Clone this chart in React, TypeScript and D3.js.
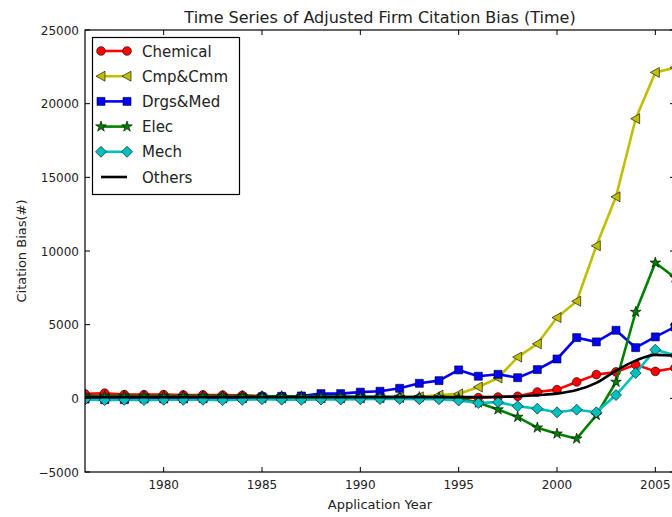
import React, { useEffect, useRef } from "react";
import * as d3 from "d3";

const years = d3.range(1976, 2007);
const seriesNames = ["Chemical", "Cmp&Cmm", "Drgs&Med", "Elec", "Mech", "Others"];
const chemical = [300, 350, 250, 250, 250, 230, 230, 220, 200, 150, 120, 100, 80, 60, 50, 40, 30, 20, 20, 10, 50, 90, 140, 430, 590, 1110, 1610, 1790, 2290, 1830, 2060];
const cmpCmm = [20, 20, 20, 20, 20, 20, 20, 20, 20, 20, 20, 20, 20, 20, 20, 30, 50, 100, 220, 300, 770, 1380, 2800, 3700, 5480, 6590, 10350, 13680, 18980, 22120, 22450];
const drgsMed = [-50, -90, -90, -30, -30, -20, 0, 10, 30, 100, 135, 160, 320, 320, 420, 480, 680, 1020, 1200, 1930, 1500, 1630, 1400, 1950, 2670, 4120, 3830, 4620, 3440, 4170, 4850];
const elec = [150, 150, 150, 150, 150, 150, 150, 150, 150, 140, 140, 130, 130, 120, 110, 100, 90, 80, 60, 30, -300, -760, -1270, -1990, -2400, -2740, -1150, 1110, 5860, 9200, 8200];
const mech = [-80, -120, -100, -120, -100, -100, -100, -120, -100, -60, -90, -100, -80, -80, -60, -50, -40, -60, -60, -150, -320, -260, -540, -700, -950, -770, -950, 220, 1720, 3300, 2920];
const others = [80, 80, 80, 80, 80, 80, 80, 80, 80, 80, 80, 80, 80, 80, 80, 80, 80, 80, 80, 80, 80, 100, 130, 220, 320, 560, 1050, 1880, 2560, 2950, 2900];
const xTicks = [1980, 1985, 1990, 1995, 2000, 2005];
const yTicks = [-5000, 0, 5000, 10000, 15000, 20000, 25000];

const seriesValues = [chemical, cmpCmm, drgsMed, elec, mech, others];
const colors = ["#ff0000", "#bfbf00", "#0000ff", "#008000", "#00bfbf", "#000000"];
const markers = ["circle", "triLeft", "square", "star", "diamond", "none"];

function markerPath(kind: string): string {
  switch (kind) {
    case "circle":
      return d3.symbol(d3.symbolCircle, 60)()!;
    case "square":
      return "M-4,-4L4,-4L4,4L-4,4Z";
    case "triLeft":
      return "M-5,0L4,-5L4,5Z";
    case "star":
      return d3.symbol(d3.symbolStar, 36)()!;
    case "diamond":
      return "M0,-5.5L5.5,0L0,5.5L-5.5,0Z";
    default:
      return "";
  }
}

export default function App() {
  const ref = useRef<SVGSVGElement>(null);
  useEffect(() => {
    document.body.style.margin = "0";
    const svg = d3.select(ref.current);
    svg.selectAll("*").remove();
    const W = 672, H = 517;
    const left = 85, right = 675, top = 30, bottom = 472;
    const x = d3.scaleLinear().domain([1976, 2006]).range([left, right]);
    const y = d3.scaleLinear().domain([-5000, 25000]).range([bottom, top]);
    const font = "DejaVu Sans, sans-serif";

    svg.append("rect").attr("width", W).attr("height", H).attr("fill", "white");

    svg.append("defs").append("clipPath").attr("id", "plotclip")
      .append("rect").attr("x", left).attr("y", top).attr("width", right - left).attr("height", bottom - top);

    const plot = svg.append("g").attr("clip-path", "url(#plotclip)");
    seriesValues.forEach((vals, i) => {
      const pts = years.map((yr, j) => [yr, vals[j]] as [number, number]);
      const line = d3.line<[number, number]>().x(d => x(d[0])).y(d => y(d[1]));
      if (markers[i] === "none") line.curve(d3.curveMonotoneX);
      plot.append("path").attr("d", line(pts)!).attr("fill", "none")
        .attr("stroke", colors[i]).attr("stroke-width", 2.6).attr("stroke-linejoin", "round");
      if (markers[i] !== "none") {
        const p = markerPath(markers[i]);
        plot.selectAll(null).data(pts).enter().append("path")
          .attr("d", p)
          .attr("transform", d => `translate(${x(d[0])},${y(d[1])})`)
          .attr("fill", colors[i]).attr("stroke", "#000").attr("stroke-width", 0.6);
      }
    });

    // spines
    svg.append("rect").attr("x", left).attr("y", top).attr("width", right - left).attr("height", bottom - top)
      .attr("fill", "none").attr("stroke", "#000").attr("stroke-width", 1.2);

    const tl = 5;
    xTicks.forEach(t => {
      const xx = x(t);
      svg.append("line").attr("x1", xx).attr("x2", xx).attr("y1", bottom).attr("y2", bottom - tl).attr("stroke", "#000");
      svg.append("line").attr("x1", xx).attr("x2", xx).attr("y1", top).attr("y2", top + tl).attr("stroke", "#000");
      svg.append("text").attr("x", xx).attr("y", bottom + 17).attr("text-anchor", "middle")
        .attr("font-family", font).attr("font-size", 12).attr("fill", "#222").text(String(t));
    });
    yTicks.forEach(t => {
      const yy = y(t);
      svg.append("line").attr("x1", left).attr("x2", left + tl).attr("y1", yy).attr("y2", yy).attr("stroke", "#000");
      svg.append("line").attr("x1", right).attr("x2", right - tl).attr("y1", yy).attr("y2", yy).attr("stroke", "#000");
      svg.append("text").attr("x", left - 6).attr("y", yy + 4.5).attr("text-anchor", "end")
        .attr("font-family", font).attr("font-size", 12).attr("fill", "#222")
        .text(t < 0 ? "\u2212" + Math.abs(t) : String(t));
    });

    svg.append("text").attr("x", (left + right) / 2).attr("y", 22.5).attr("text-anchor", "middle")
      .attr("font-family", font).attr("font-size", 16).attr("fill", "#222")
      .text("Time Series of Adjusted Firm Citation Bias (Time)");
    svg.append("text").attr("x", (left + right) / 2).attr("y", 509).attr("text-anchor", "middle")
      .attr("font-family", font).attr("font-size", 13).attr("fill", "#222").text("Application Year");
    svg.append("text").attr("transform", `translate(26,${(top + bottom) / 2}) rotate(-90)`).attr("text-anchor", "middle")
      .attr("font-family", font).attr("font-size", 13).attr("fill", "#222").text("Citation Bias(#)");

    // legend
    const lg = svg.append("g");
    lg.append("rect").attr("x", 92.5).attr("y", 37.5).attr("width", 147).attr("height", 157)
      .attr("fill", "white").attr("stroke", "#000").attr("stroke-width", 1.2);
    seriesNames.forEach((name, i) => {
      const yy = 51 + i * 25.2;
      lg.append("line").attr("x1", 101).attr("x2", 127).attr("y1", yy).attr("y2", yy)
        .attr("stroke", colors[i]).attr("stroke-width", 2.6);
      if (markers[i] !== "none") {
        [101, 127].forEach(xx => {
          lg.append("path").attr("d", markerPath(markers[i])).attr("transform", `translate(${xx},${yy})`)
            .attr("fill", colors[i]).attr("stroke", "#000").attr("stroke-width", 0.6);
        });
      }
      lg.append("text").attr("x", 142).attr("y", yy + 5.5).attr("font-family", font).attr("font-size", 15)
        .attr("fill", "#222").text(name);
    });
  }, []);
  return <svg ref={ref} width={672} height={517} style={{ display: "block" }} />;
}
